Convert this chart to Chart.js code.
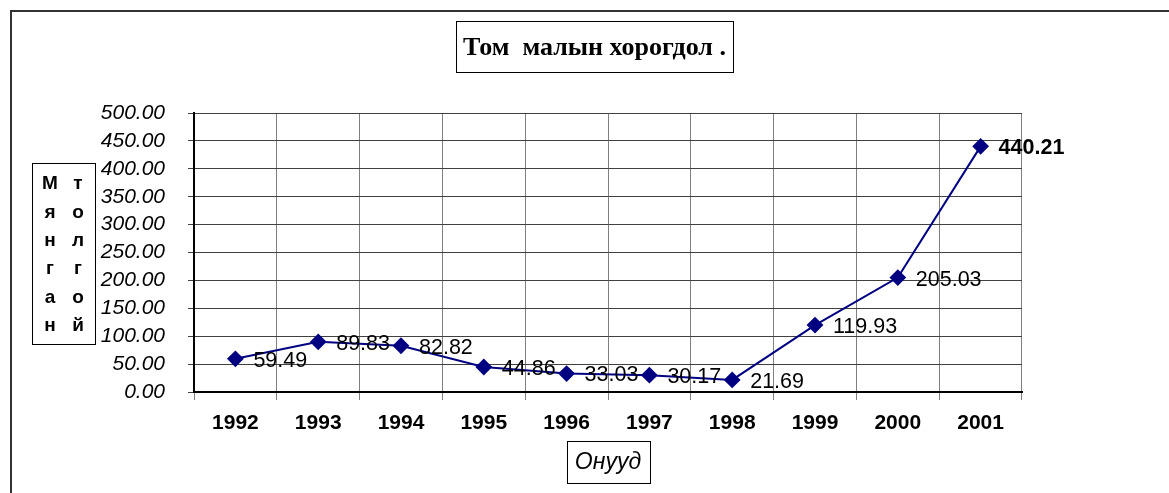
<!DOCTYPE html>
<html>
<head>
<meta charset="utf-8">
<script src="https://cdn.jsdelivr.net/npm/chart.js@4.4.1/dist/chart.umd.min.js"></script>
<style>
  html, body { margin: 0; padding: 0; background: #fff; }
  canvas { display: block; }
</style>
</head>
<body>
<canvas id="lossChart" width="1169" height="493"></canvas>
<script>
// data
const years = ["1992", "1993", "1994", "1995", "1996", "1997", "1998", "1999", "2000", "2001"];
const losses = [59.49, 89.83, 82.82, 44.86, 33.03, 30.17, 21.69, 119.93, 205.03, 440.21];
const chartTitle = "Том  малын хорогдол .";
const yTitleLeft = ["М", "я", "н", "г", "а", "н"];
const yTitleRight = ["т", "о", "л", "г", "о", "й"];
const xTitle = "Онууд";

const SANS = "'Liberation Sans', Arial, sans-serif";

// labels next to each point + boxed titles + outer frame
const decorations = {
  id: "decorations",
  afterDatasetsDraw(chart) {
    const ctx = chart.ctx;
    const meta = chart.getDatasetMeta(0);
    ctx.save();
    ctx.fillStyle = "#000";
    ctx.textAlign = "left";
    ctx.textBaseline = "middle";
    meta.data.forEach(function (pt, i) {
      const last = i === losses.length - 1;
      ctx.font = (last ? "bold " : "") + "21.5px " + SANS;
      ctx.fillText(losses[i].toFixed(2), pt.x + 18, pt.y + 2);
    });
    ctx.restore();
  },
  afterDraw(chart) {
    const ctx = chart.ctx;
    ctx.save();

    // outer frame (only left and top edges visible)
    ctx.strokeStyle = "#333";
    ctx.lineWidth = 2;
    ctx.beginPath();
    ctx.moveTo(11, 493);
    ctx.lineTo(11, 11);
    ctx.lineTo(1169, 11);
    ctx.stroke();

    ctx.lineWidth = 1;
    ctx.strokeStyle = "#000";

    // chart title
    ctx.strokeRect(456.5, 21.5, 277, 51);
    ctx.fillStyle = "#000";
    ctx.font = "bold 26px 'Liberation Serif', 'Times New Roman', serif";
    ctx.textAlign = "center";
    ctx.textBaseline = "middle";
    ctx.fillText(chartTitle, 594.5, 48);

    // y title, letters stacked in two columns
    ctx.strokeRect(32.5, 163.5, 63, 181);
    ctx.font = "bold 19px " + SANS;
    yTitleLeft.forEach(function (ch, i) {
      ctx.fillText(ch, 50, 184 + i * 28.4);
    });
    yTitleRight.forEach(function (ch, i) {
      ctx.fillText(ch, 78, 184 + i * 28.4);
    });

    // x title
    ctx.strokeRect(567.5, 441.5, 83, 42);
    ctx.font = "italic 23px " + SANS;
    ctx.fillText(xTitle, 608, 463);

    ctx.restore();
  }
};

new Chart(document.getElementById("lossChart"), {
  type: "line",
  data: {
    labels: years,
    datasets: [{
      data: losses,
      borderColor: "#000080",
      backgroundColor: "#000080",
      borderWidth: 2,
      pointStyle: "rectRot",
      pointRadius: 7,
      pointHoverRadius: 7,
      tension: 0
    }]
  },
  options: {
    responsive: false,
    animation: false,
    devicePixelRatio: 1,
    layout: { padding: { left: 0, top: 113, right: 147, bottom: 0 } },
    plugins: {
      legend: { display: false },
      title: { display: false },
      tooltip: { enabled: false }
    },
    scales: {
      x: {
        offset: true,
        grid: { offset: true, color: "#808080", lineWidth: 1, tickLength: 8 },
        border: { color: "#000", width: 2 },
        ticks: {
          color: "#000",
          padding: 11,
          maxRotation: 0,
          autoSkip: false,
          font: { family: SANS, size: 21, weight: "bold" }
        },
        afterFit(scale) { scale.height = 101; }
      },
      y: {
        min: 0,
        max: 500,
        grid: { color: "#404040", lineWidth: 1, tickLength: 6 },
        border: { color: "#000", width: 2 },
        ticks: {
          stepSize: 50,
          autoSkip: false,
          color: "#000",
          padding: 23,
          font: { family: SANS, size: 21, style: "italic", lineHeight: 1 },
          callback: function (v) { return v.toFixed(2); }
        },
        afterFit(scale) { scale.width = 194; }
      }
    }
  },
  plugins: [decorations]
});
</script>
</body>
</html>
